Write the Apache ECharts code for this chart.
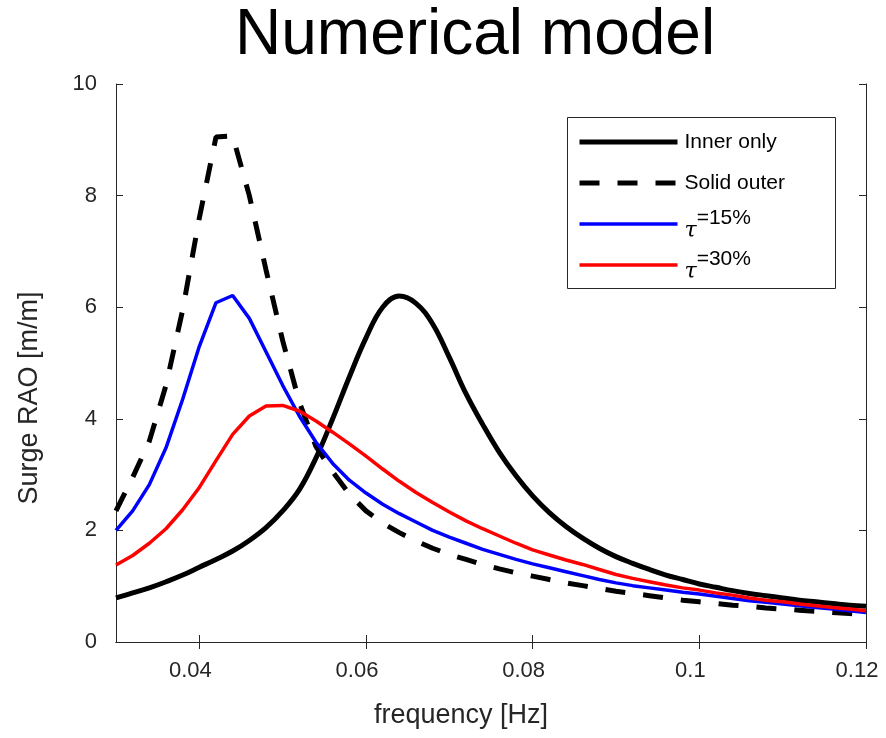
<!DOCTYPE html>
<html>
<head>
<meta charset="utf-8">
<title>Numerical model</title>
<script src="https://cdn.jsdelivr.net/npm/echarts@6/dist/echarts.min.js"></script>
<style>
  html, body { margin: 0; padding: 0; background: #fff; }
  #chart { width: 886px; height: 738px; }
</style>
</head>
<body>
<div id="chart"></div>
<script>
// frequency [Hz]
const freq = [
  0.030, 0.032, 0.034, 0.036, 0.038, 0.040, 0.042, 0.044, 0.046, 0.048,
  0.050, 0.052, 0.054, 0.056, 0.058, 0.060, 0.062, 0.064, 0.066, 0.068,
  0.070, 0.072, 0.074, 0.076, 0.078, 0.080, 0.082, 0.084, 0.086, 0.088,
  0.090, 0.092, 0.094, 0.096, 0.098, 0.100, 0.102, 0.104, 0.106, 0.108,
  0.110, 0.112, 0.114, 0.116, 0.118, 0.120
]
// Surge RAO [m/m]
const innerOnly = [
  0.79, 0.88, 0.97, 1.08, 1.20, 1.34, 1.48, 1.63, 1.82, 2.05,
  2.35, 2.73, 3.30, 4.00, 4.75, 5.45, 6.00, 6.20, 6.07, 5.70,
  5.10, 4.45, 3.90, 3.40, 2.98, 2.62, 2.32, 2.07, 1.86, 1.68,
  1.53, 1.41, 1.30, 1.20, 1.12, 1.04, 0.98, 0.92, 0.87, 0.83,
  0.79, 0.75, 0.72, 0.69, 0.66, 0.64
]
const solidOuter = [
  2.35, 2.95, 3.60, 4.60, 5.95, 7.60, 9.05, 9.07, 8.00, 6.67,
  5.40, 4.30, 3.50, 3.05, 2.65, 2.35, 2.13, 1.96, 1.81, 1.68,
  1.57, 1.48, 1.39, 1.31, 1.24, 1.18, 1.12, 1.06, 1.01, 0.96,
  0.91, 0.87, 0.83, 0.79, 0.75, 0.72, 0.69, 0.66, 0.64, 0.61,
  0.59, 0.57, 0.55, 0.53, 0.51, 0.49
]
const tau15 = [
  2.00, 2.35, 2.82, 3.48, 4.35, 5.30, 6.08, 6.21, 5.80, 5.20,
  4.60, 4.05, 3.58, 3.20, 2.90, 2.67, 2.47, 2.30, 2.15, 2.00,
  1.88, 1.77, 1.66, 1.57, 1.48, 1.40, 1.33, 1.26, 1.19, 1.12,
  1.06, 1.01, 0.97, 0.93, 0.89, 0.86, 0.82, 0.78, 0.74, 0.71,
  0.68, 0.65, 0.62, 0.59, 0.56, 0.53
]
const tau30 = [
  1.38, 1.55, 1.77, 2.03, 2.37, 2.77, 3.25, 3.72, 4.05, 4.23,
  4.24, 4.14, 3.96, 3.76, 3.55, 3.33, 3.10, 2.88, 2.68, 2.50,
  2.33, 2.17, 2.03, 1.90, 1.77, 1.65, 1.56, 1.47, 1.39, 1.30,
  1.21, 1.14, 1.08, 1.02, 0.97, 0.93, 0.88, 0.84, 0.79, 0.75,
  0.72, 0.68, 0.65, 0.62, 0.59, 0.56
]
const xTicks = [0.04, 0.06, 0.08, 0.1, 0.12]
const seriesNames = ['Inner only', 'Solid outer', 'τ=15%', 'τ=30%']

const axisColor = '#262626'
const font = 'Liberation Sans, Arial, Helvetica, sans-serif'

function pairs(values) {
  return freq.map((f, i) => [f, values[i]])
}

const chart = echarts.init(document.getElementById('chart'))
const option = {
  animation: false,
  backgroundColor: '#fff',
  title: {
    text: 'Numerical model',
    left: 235,
    top: 4,
    padding: 0,
    textStyle: { fontFamily: font, fontSize: 64, fontWeight: 'normal', color: '#000' }
  },
  grid: { left: 116, right: 20, top: 84, bottom: 96 },
  graphic: [{
    type: 'rect',
    z: 1,
    shape: { x: 567.5, y: 117.5, width: 268, height: 171 },
    style: { fill: '#fff', stroke: axisColor, lineWidth: 1 }
  }],
  legend: {
    orient: 'vertical',
    left: 577,
    top: 124,
    padding: 0,
    itemWidth: 98,
    itemHeight: 36,
    itemGap: 5,
    z: 5,
    data: seriesNames,
    itemStyle: { opacity: 0, borderWidth: 0 },
    lineStyle: { width: 'inherit', type: 'inherit' },
    formatter: function(name) {
      if (name.charAt(0) === 'τ') {
        return '{tau|τ}{sup|' + name.slice(1) + '}'
      }
      return name
    },
    textStyle: {
      fontFamily: font,
      fontSize: 21,
      lineHeight: 36,
      color: '#000',
      padding: [0, 0, 0, 2],
      rich: {
        tau: { fontFamily: 'DejaVu Serif', fontStyle: 'italic', fontSize: 22, color: '#000', padding: [14, 0, 0, 0] },
        sup: { fontFamily: font, fontSize: 21, color: '#000', padding: [0, 0, 11, 0] }
      }
    }
  },
  xAxis: [{
    type: 'value',
    position: 'bottom',
    min: 0.03,
    max: 0.12,
    name: 'frequency [Hz]',
    nameLocation: 'middle',
    nameGap: 60,
    nameTextStyle: { fontFamily: font, fontSize: 27, color: axisColor, padding: [0, 60, 0, 0] },
    axisLine: { show: true, lineStyle: { color: axisColor, width: 1 } },
    axisTick: { show: true, inside: true, length: 7, customValues: xTicks, lineStyle: { color: axisColor } },
    axisLabel: { customValues: xTicks, margin: 18, fontFamily: font, fontSize: 22, color: axisColor, padding: [0, 18, 0, 0] },
    splitLine: { show: false }
  }, {
    type: 'value',
    position: 'top',
    min: 0.03,
    max: 0.12,
    axisLine: { show: true, lineStyle: { color: axisColor, width: 1 } },
    axisTick: { show: true, inside: true, length: 7, customValues: xTicks, lineStyle: { color: axisColor } },
    axisLabel: { show: false },
    splitLine: { show: false }
  }],
  yAxis: [{
    type: 'value',
    position: 'left',
    min: 0,
    max: 10,
    interval: 2,
    name: 'Surge RAO [m/m]',
    nameLocation: 'middle',
    nameGap: 73,
    nameTextStyle: { fontFamily: font, fontSize: 27, color: axisColor, padding: [0, 70, 0, 0] },
    axisLine: { show: true, lineStyle: { color: axisColor, width: 1 } },
    axisTick: { show: true, inside: true, length: 7, lineStyle: { color: axisColor } },
    axisLabel: { margin: 19, fontFamily: font, fontSize: 22, color: axisColor, padding: [0, 0, 10, 0] },
    splitLine: { show: false }
  }, {
    type: 'value',
    position: 'right',
    min: 0,
    max: 10,
    interval: 2,
    axisLine: { show: true, lineStyle: { color: axisColor, width: 1 } },
    axisTick: { show: true, inside: true, length: 7, lineStyle: { color: axisColor } },
    axisLabel: { show: false },
    splitLine: { show: false }
  }],
  series: [{
    name: seriesNames[0],
    type: 'line',
    symbol: 'none',
    smooth: 0.4,
    data: pairs(innerOnly),
    lineStyle: { color: '#000', width: 5 },
    itemStyle: { color: '#000' }
  }, {
    name: seriesNames[1],
    type: 'line',
    symbol: 'none',
    data: pairs(solidOuter),
    lineStyle: { color: '#000', width: 5, type: [20, 18] },
    itemStyle: { color: '#000' }
  }, {
    name: seriesNames[2],
    type: 'line',
    symbol: 'none',
    data: pairs(tau15),
    lineStyle: { color: '#0000ff', width: 3.5 },
    itemStyle: { color: '#0000ff' }
  }, {
    name: seriesNames[3],
    type: 'line',
    symbol: 'none',
    data: pairs(tau30),
    lineStyle: { color: '#ff0000', width: 3.5 },
    itemStyle: { color: '#ff0000' }
  }]
}
chart.setOption(option)
</script>
</body>
</html>
